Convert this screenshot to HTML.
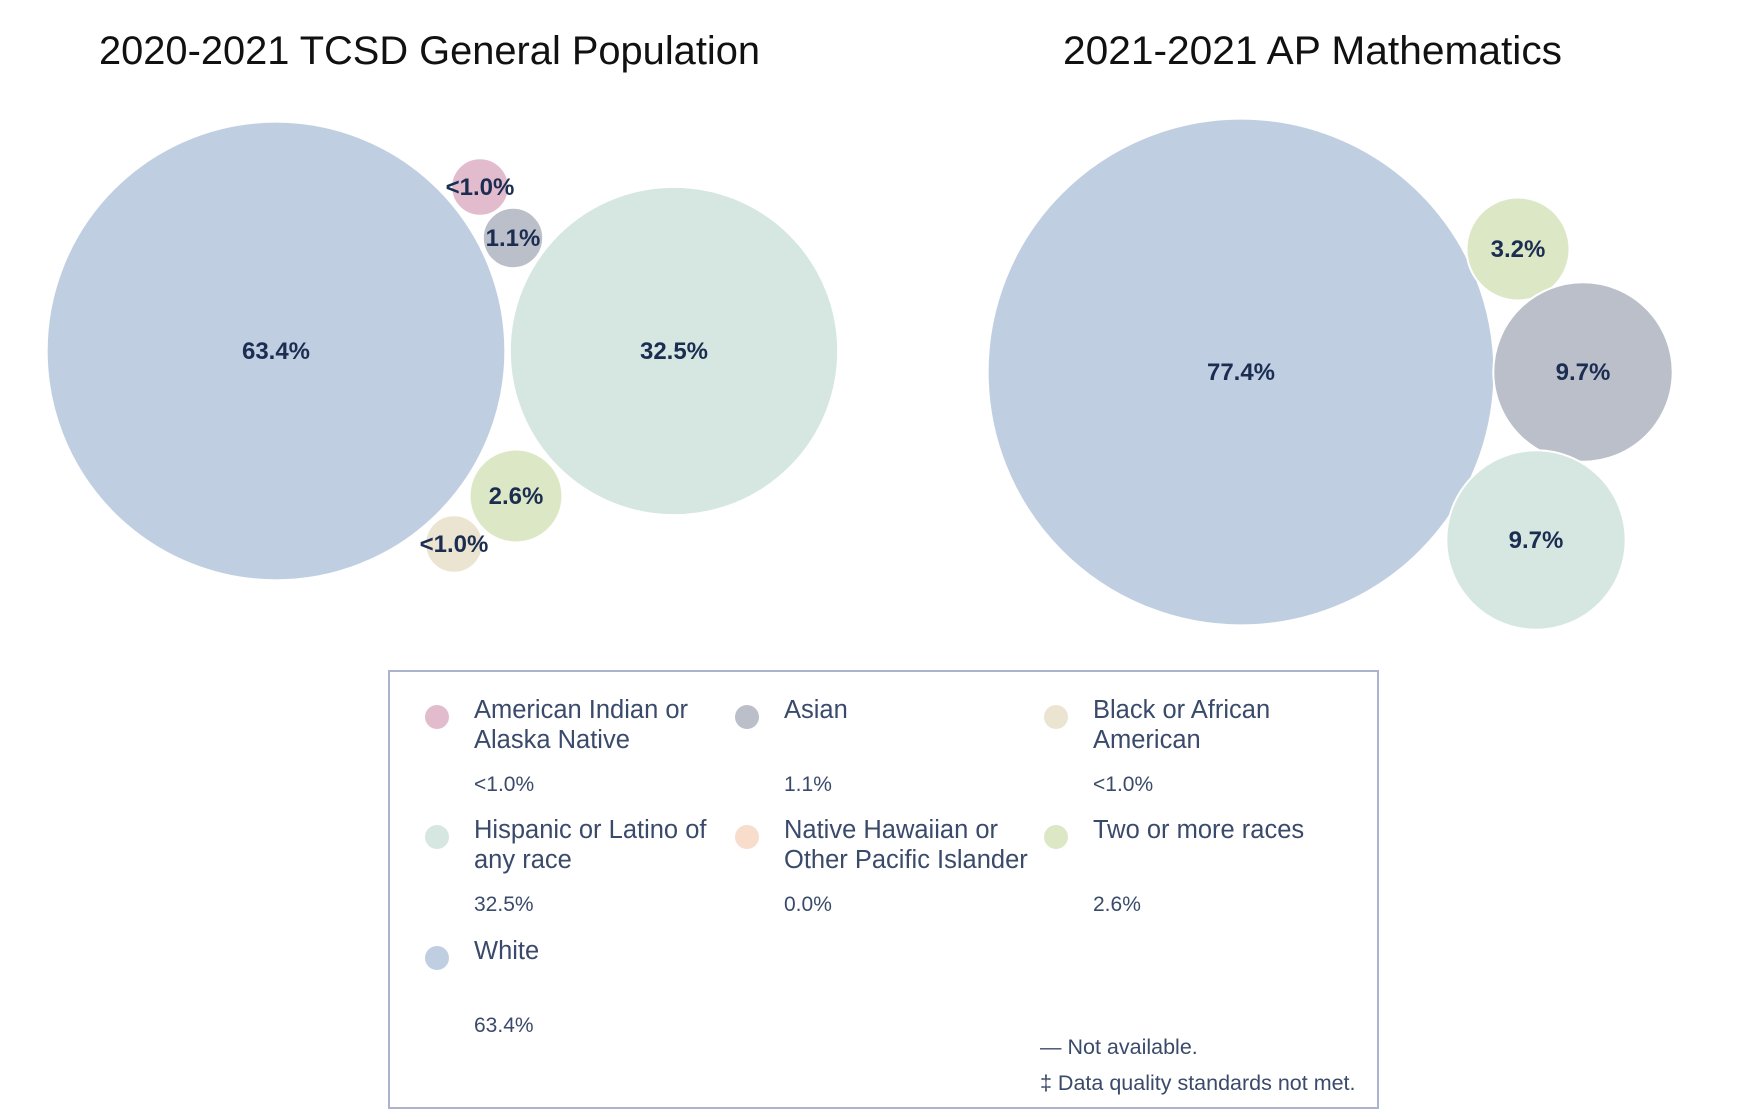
<!DOCTYPE html>
<html><head><meta charset="utf-8"><style>
body{margin:0;width:1758px;height:1120px;background:#fff;overflow:hidden;font-family:"Liberation Sans",sans-serif}
svg{position:absolute;left:0;top:0}
</style></head><body>
<svg id="chart" width="1758" height="1120">
<text x="99" y="64" font-size="40" textLength="661" lengthAdjust="spacingAndGlyphs" fill="#111">2020-2021 TCSD General Population</text>
<text x="1063" y="64" font-size="40" textLength="499" lengthAdjust="spacingAndGlyphs" fill="#111">2021-2021 AP Mathematics</text>
<g id="left"></g><g id="right"></g>
<rect x="389" y="671" width="989" height="437" fill="none" stroke="#aab4cc" stroke-width="2"/>
<g id="legend" font-size="25.5" fill="#3a4a6a"></g>
<text x="1040" y="1054" font-size="21.5" fill="#3a4a6a">— Not available.</text>
<text x="1040" y="1090" font-size="21.5" fill="#3a4a6a">‡ Data quality standards not met.</text>
</svg>
<script>
const leftCats=["White","Hispanic","American Indian","Asian","Two or more","Black"];
const leftVals=[63.4,32.5,1.0,1.1,2.6,1.0];
const leftLabels=["63.4%","32.5%","<1.0%","1.1%","2.6%","<1.0%"];
const rightCats=["White","Two or more","Asian","Hispanic"];
const rightVals=[77.4,3.2,9.7,9.7];
const rightLabels=["77.4%","3.2%","9.7%","9.7%"];
const legendCats=["American Indian or|Alaska Native","Asian","Black or African|American","Hispanic or Latino of|any race","Native Hawaiian or|Other Pacific Islander","Two or more races","White"];
const legendVals=["<1.0%","1.1%","<1.0%","32.5%","0.0%","2.6%","63.4%"];
const colors={"White":"#bfcfe1","Hispanic":"#d5e7e0","American Indian":"#e2bccd","Asian":"#babfc9","Two or more":"#dce8c5","Black":"#ebe4d0","Native Hawaiian":"#f8dccc"};
const legendColors=["#e2bccd","#babfc9","#ebe4d0","#d5e7e0","#f8dccc","#dce8c5","#bfcfe1"];
const leftCenters=[[276,351],[674,351],[480,187],[513,238],[516,496],[454,544]];
const rightCenters=[[1241,372],[1518,249],[1583,372],[1536,540]];
const NS="http://www.w3.org/2000/svg";
function rScale(v){return 28.8*Math.sqrt(v);}
function draw(gid,cats,vals,labels,centers){
  const g=document.getElementById(gid);
  cats.forEach((c,i)=>{
    const ci=document.createElementNS(NS,"circle");
    ci.setAttribute("cx",centers[i][0]);ci.setAttribute("cy",centers[i][1]);
    ci.setAttribute("r",rScale(vals[i]));ci.setAttribute("fill",colors[c]);
    ci.setAttribute("stroke","#fff");ci.setAttribute("stroke-width","2");
    
    
    g.appendChild(ci);
  });
  cats.forEach((c,i)=>{
    const t=document.createElementNS(NS,"text");
    t.setAttribute("x",centers[i][0]);t.setAttribute("y",centers[i][1]+8);
    t.setAttribute("text-anchor","middle");t.setAttribute("font-size","24");
    t.setAttribute("font-weight","bold");t.setAttribute("fill","#1c2d52");
    t.textContent=labels[i];
    
    
    g.appendChild(t);
  });
}
draw("left",leftCats,leftVals,leftLabels,leftCenters);
draw("right",rightCats,rightVals,rightLabels,rightCenters);
const lg=document.getElementById("legend");
const colX=[437,747,1056],rowY=[717,837,958];
legendCats.forEach((c,i)=>{
  const cx=colX[i%3],cy=rowY[Math.floor(i/3)];
  const d=document.createElementNS(NS,"circle");
  d.setAttribute("cx",cx);d.setAttribute("cy",cy);d.setAttribute("r",12);d.setAttribute("fill",legendColors[i]);
  
  
  lg.appendChild(d);
  c.split("|").forEach((ln,j)=>{
    const t=document.createElementNS(NS,"text");
    t.setAttribute("x",cx+37);t.setAttribute("y",cy+1+j*30);t.textContent=ln;
    
    
    lg.appendChild(t);
  });
  const v=document.createElementNS(NS,"text");
  v.setAttribute("x",cx+37);v.setAttribute("y",cy+74);v.setAttribute("font-size","21");
  v.textContent=legendVals[i];
  
  
  lg.appendChild(v);
});
</script>
</body></html>
